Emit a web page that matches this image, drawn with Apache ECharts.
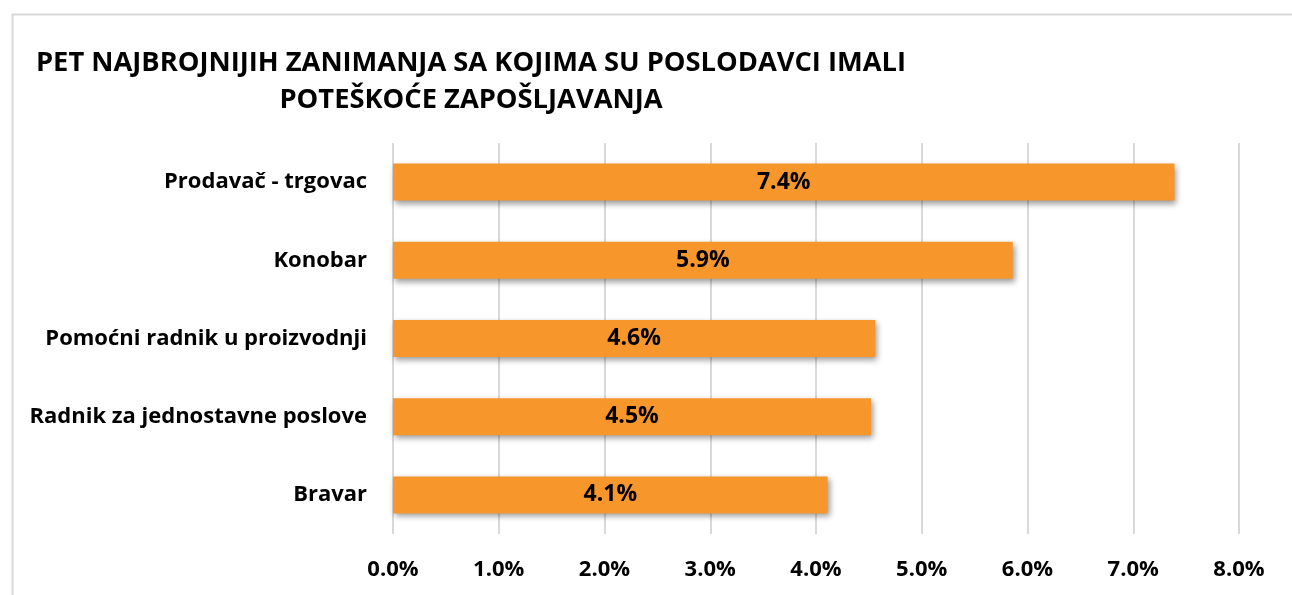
<!DOCTYPE html>
<html>
<head>
<meta charset="utf-8">
<script src="https://cdn.jsdelivr.net/npm/echarts@6/dist/echarts.min.js"></script>
<style>
html,body{margin:0;padding:0;background:#fff;}
#c{width:1292px;height:595px;}
</style>
</head>
<body>
<div id="c"></div>
<script>
const titleLines = ['PET NAJBROJNIJIH ZANIMANJA SA KOJIMA SU POSLODAVCI IMALI', 'POTEŠKOĆE ZAPOŠLJAVANJA'];
const categories = ['Prodavač - trgovac', 'Konobar', 'Pomoćni radnik u proizvodnji', 'Radnik za jednostavne poslove', 'Bravar'];
const values = [7.39, 5.86, 4.56, 4.52, 4.11];
const xTicks = [0, 1, 2, 3, 4, 5, 6, 7, 8];

const FONT = '"Open Sans"';
const chart = echarts.init(document.getElementById('c'), null, {renderer: 'canvas'});
chart.setOption({
  animation: false,
  backgroundColor: '#fff',
  graphic: [{
    type: 'rect', left: 10, top: 12, shape: {width: 1300, height: 600},
    style: {fill: 'none', stroke: '#d9d9d9', lineWidth: 2}, silent: true
  }],
  title: {
    text: titleLines.join('\n'),
    left: 466, top: 40, textAlign: 'center',
    textStyle: {fontFamily: FONT, fontWeight: 'bold', fontSize: 27.3, lineHeight: 37, color: '#000'}
  },
  grid: {left: 393, right: 53, top: 143, bottom: 61, containLabel: false},
  xAxis: {
    type: 'value', min: xTicks[0], max: xTicks[xTicks.length - 1], interval: 1,
    axisLine: {show: false}, axisTick: {show: false},
    splitLine: {show: true, lineStyle: {color: '#d9d9d9', width: 2}},
    axisLabel: {
      margin: 25, fontFamily: FONT, fontWeight: 'bold', fontSize: 22, color: '#000',
      formatter: v => v.toFixed(1) + '%'
    }
  },
  yAxis: {
    type: 'category', data: categories, inverse: true,
    axisLine: {show: false}, axisTick: {show: false}, splitLine: {show: false},
    axisLabel: {margin: 26, fontFamily: FONT, fontWeight: 'bold', fontSize: 22, color: '#000'}
  },
  series: [{
    type: 'bar', data: values, barWidth: 37,
    itemStyle: {
      color: '#F7962B',
      shadowColor: 'rgba(0,0,0,0.4)', shadowBlur: 6, shadowOffsetX: 2, shadowOffsetY: 3
    },
    label: {
      show: true, position: 'inside', fontFamily: FONT, fontWeight: 'bold', fontSize: 23, color: '#000',
      formatter: p => p.value.toFixed(1) + '%'
    }
  }]
});
</script>
</body>
</html>
